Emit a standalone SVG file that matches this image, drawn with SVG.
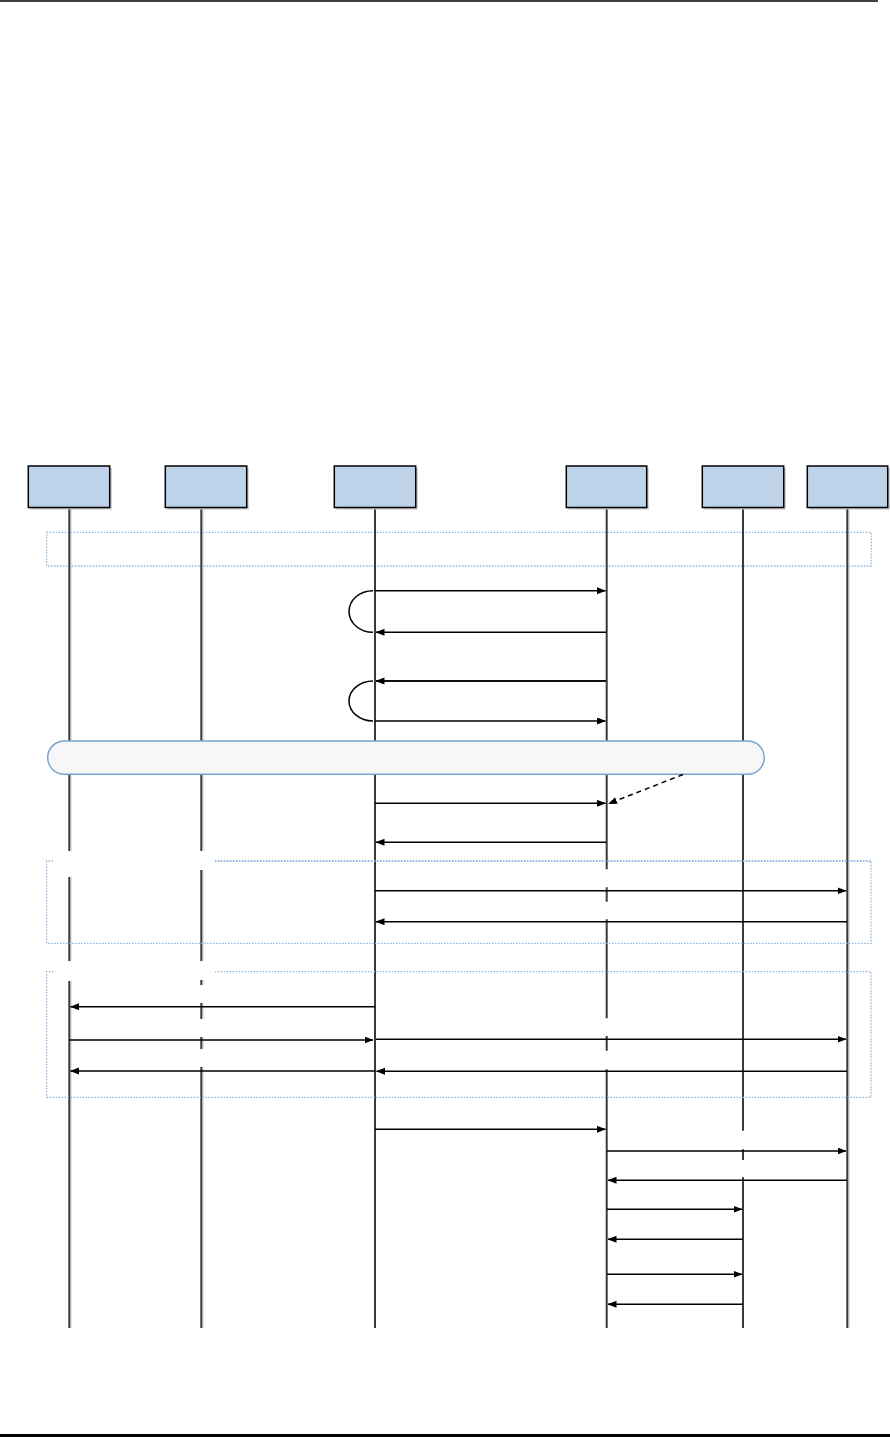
<svg xmlns="http://www.w3.org/2000/svg" width="890" height="1437" viewBox="0 0 890 1437">
<style>
.box{fill:#bed3e9;stroke:#000;stroke-width:1.5}
.shd{fill:#c4c4c4}
.ll{stroke:#3a3a3a;stroke-width:2;fill:none}
.lls{stroke:#c6c6c6;stroke-width:1;fill:none}
.frm{fill:none;stroke:#8fb4dc;stroke-width:1.3;stroke-dasharray:1.5 1.5}
.msg{stroke:#000;stroke-width:1.5;fill:none}
</style>
<defs>
<marker id="ah" markerUnits="userSpaceOnUse" markerWidth="9" markerHeight="8" refX="8.5" refY="3.5" orient="auto">
<path d="M0,0 L9,3.5 L0,7 z" fill="#000"/>
</marker>
</defs>
<rect width="890" height="1437" fill="#fff"/>
<line x1="0" y1="1" x2="878" y2="1" stroke="#000" stroke-width="1.5"/>
<line x1="0" y1="1435.5" x2="890" y2="1435.5" stroke="#000" stroke-width="3"/>

<g id="frame1"><rect class="frm" x="46.7" y="532.3" width="824.5" height="33.7"/></g>

<g id="lifelines">
<path class="lls" d="M71,507V851 M71,877V961 M71,981V1328"/>
<path class="ll" d="M69.3,507V851 M69.3,877V961 M69.3,981V1328"/>
<path class="lls" d="M203,507V851 M203,870V961 M203,980V985 M203,1003V1019 M203,1037V1049 M203,1067V1328"/>
<path class="ll" d="M201.3,507V851 M201.3,870V961 M201.3,980V985 M201.3,1003V1019 M201.3,1037V1049 M201.3,1067V1328"/>
<path class="ll" d="M375,507V1328"/>
<path class="ll" d="M606.7,507V869.3 M606.7,887.3V901.7 M606.7,919.3V1018.3 M606.7,1036V1050.7 M606.7,1069.3V1328"/>
<path class="ll" d="M743,507V1130.7 M743,1149.3V1160 M743,1177.3V1328"/>
<path class="lls" d="M849,507V1328"/>
<path class="ll" d="M847.3,507V1328"/>
</g>

<g id="node1"><rect class="shd" x="30.3" y="468" width="81.4" height="41.5"/><rect class="box" x="28.3" y="466" width="81.4" height="41.5"/></g>
<g id="node2"><rect class="shd" x="167.3" y="468" width="81.4" height="41.5"/><rect class="box" x="165.3" y="466" width="81.4" height="41.5"/></g>
<g id="node3"><rect class="shd" x="336.3" y="468" width="81.4" height="41.5"/><rect class="box" x="334.3" y="466" width="81.4" height="41.5"/></g>
<g id="node4"><rect class="shd" x="568.3" y="468" width="80.4" height="41.5"/><rect class="box" x="566.3" y="466" width="80.4" height="41.5"/></g>
<g id="node5"><rect class="shd" x="704.3" y="468" width="81.4" height="41.5"/><rect class="box" x="702.3" y="466" width="81.4" height="41.5"/></g>
<g id="node6"><rect class="shd" x="809.3" y="468" width="80.4" height="41.5"/><rect class="box" x="807.3" y="466" width="80.4" height="41.5"/></g>

<g id="frame2"><path class="frm" d="M53,861H46.7V943.3H871V861H215" /><path class="frm" d="M215,861H871" stroke-width="2"/></g>
<g id="frame3"><path class="frm" d="M53.3,971.7H46.7V1097.3H871V971.7H215"/></g>

<g id="note"><rect x="47.7" y="741" width="716.6" height="33.3" rx="16.6" ry="16.6" fill="#f7f7f7" stroke="#7ba3d4" stroke-width="1.5"/></g>

<g id="connectors">
<line class="msg" x1="375" y1="590.7" x2="605.5" y2="590.7" marker-end="url(#ah)"/>
<path class="msg" d="M373,590.7 A24,20.8 0 0 0 373,632.3"/>
<line class="msg" x1="606" y1="632.3" x2="376" y2="632.3" marker-end="url(#ah)"/>
<line class="msg" x1="606" y1="681" x2="376" y2="681" stroke-width="2"/>
<line class="msg" x1="606" y1="681" x2="376" y2="681" marker-end="url(#ah)"/>
<path class="msg" d="M373,681 A24,20 0 0 0 373,721"/>
<line class="msg" x1="375" y1="721" x2="605.5" y2="721" marker-end="url(#ah)"/>
<line class="msg" x1="683" y1="774.5" x2="608.5" y2="803.7" stroke-dasharray="5 4" marker-end="url(#ah)"/>
<line class="msg" x1="375" y1="803.3" x2="605.5" y2="803.3" marker-end="url(#ah)"/>
<line class="msg" x1="606" y1="842.3" x2="376" y2="842.3" marker-end="url(#ah)"/>
<line class="msg" x1="375" y1="890.7" x2="846" y2="890.7" marker-end="url(#ah)"/>
<line class="msg" x1="847" y1="921.7" x2="376" y2="921.7" stroke="#555" stroke-width="2" marker-end="url(#ah)"/>
<line class="msg" x1="375" y1="1006.7" x2="70.5" y2="1006.7" marker-end="url(#ah)"/>
<line class="msg" x1="69.3" y1="1040" x2="373" y2="1040" stroke-width="2" marker-end="url(#ah)"/>
<line class="msg" x1="376" y1="1039.3" x2="846" y2="1039.3" marker-end="url(#ah)"/>
<line class="msg" x1="375" y1="1071" x2="70.5" y2="1071" marker-end="url(#ah)"/>
<line class="msg" x1="847" y1="1071.3" x2="376.5" y2="1071.3" marker-end="url(#ah)"/>
<line class="msg" x1="375" y1="1129.3" x2="605.5" y2="1129.3" marker-end="url(#ah)"/>
<line class="msg" x1="607" y1="1151" x2="846" y2="1151" marker-end="url(#ah)"/>
<line class="msg" x1="847" y1="1180.3" x2="608" y2="1180.3" marker-end="url(#ah)"/>
<line class="msg" x1="607" y1="1209.3" x2="742" y2="1209.3" marker-end="url(#ah)"/>
<line class="msg" x1="743" y1="1239.3" x2="608" y2="1239.3" marker-end="url(#ah)"/>
<line class="msg" x1="607" y1="1274.3" x2="742" y2="1274.3" marker-end="url(#ah)"/>
<line class="msg" x1="743" y1="1304.3" x2="608" y2="1304.3" marker-end="url(#ah)"/>
</g>
</svg>
